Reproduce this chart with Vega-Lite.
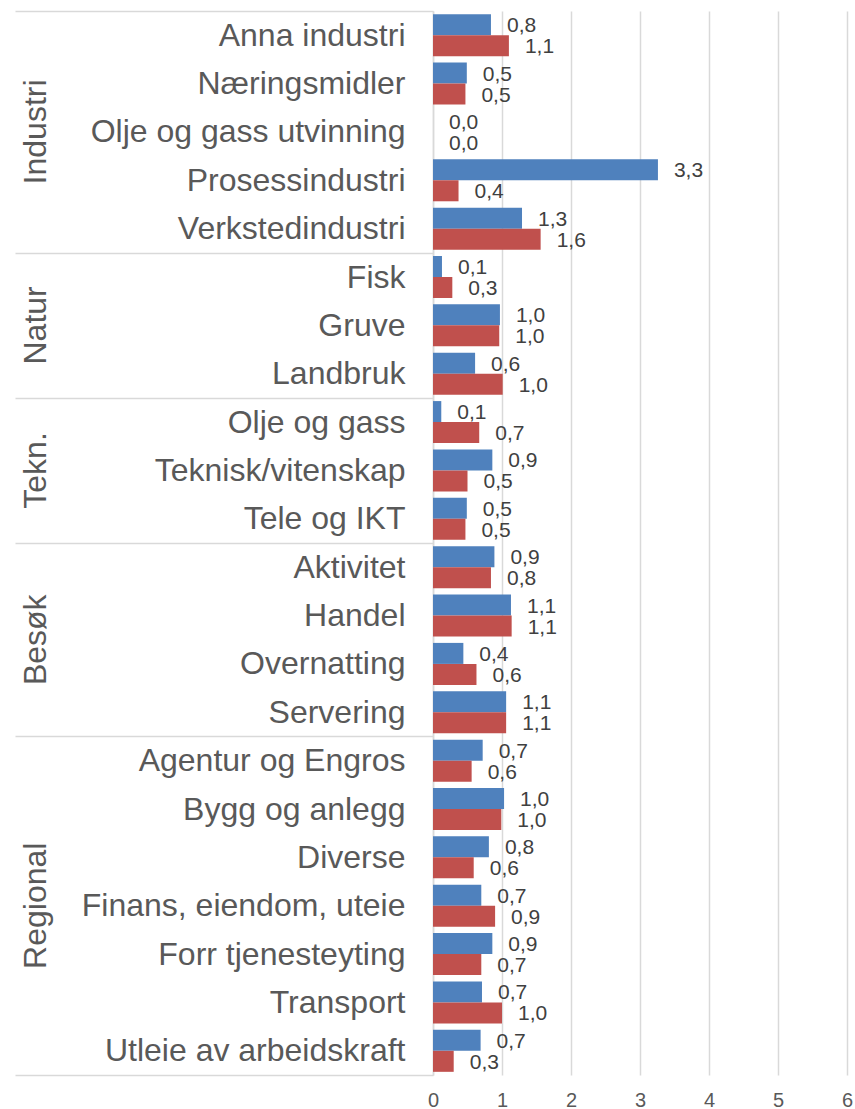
{
  "$schema": "https://vega.github.io/schema/vega-lite/v6.json",
  "autosize": {"type": "none"},
  "padding": {"left": 433, "top": 11, "right": 8, "bottom": 34},
  "width": 414,
  "height": 1064,
  "config": {
    "font": "Liberation Sans",
    "view": {"stroke": null},
    "locale": {"number": {"decimal": ",", "thousands": " ", "grouping": [3], "currency": ["", " kr"]}}
  },
  "data": {
    "values": [
      {"gruppe": "Industri", "kategori": "Anna industri", "serie": "Serie 1", "verdi": 0.84},
      {"gruppe": "Industri", "kategori": "Anna industri", "serie": "Serie 2", "verdi": 1.10},
      {"gruppe": "Industri", "kategori": "Næringsmidler", "serie": "Serie 1", "verdi": 0.49},
      {"gruppe": "Industri", "kategori": "Næringsmidler", "serie": "Serie 2", "verdi": 0.47},
      {"gruppe": "Industri", "kategori": "Olje og gass utvinning", "serie": "Serie 1", "verdi": 0},
      {"gruppe": "Industri", "kategori": "Olje og gass utvinning", "serie": "Serie 2", "verdi": 0},
      {"gruppe": "Industri", "kategori": "Prosessindustri", "serie": "Serie 1", "verdi": 3.26},
      {"gruppe": "Industri", "kategori": "Prosessindustri", "serie": "Serie 2", "verdi": 0.37},
      {"gruppe": "Industri", "kategori": "Verkstedindustri", "serie": "Serie 1", "verdi": 1.29},
      {"gruppe": "Industri", "kategori": "Verkstedindustri", "serie": "Serie 2", "verdi": 1.56},
      {"gruppe": "Natur", "kategori": "Fisk", "serie": "Serie 1", "verdi": 0.13},
      {"gruppe": "Natur", "kategori": "Fisk", "serie": "Serie 2", "verdi": 0.28},
      {"gruppe": "Natur", "kategori": "Gruve", "serie": "Serie 1", "verdi": 0.97},
      {"gruppe": "Natur", "kategori": "Gruve", "serie": "Serie 2", "verdi": 0.96},
      {"gruppe": "Natur", "kategori": "Landbruk", "serie": "Serie 1", "verdi": 0.61},
      {"gruppe": "Natur", "kategori": "Landbruk", "serie": "Serie 2", "verdi": 1.01},
      {"gruppe": "Tekn.", "kategori": "Olje og gass", "serie": "Serie 1", "verdi": 0.12},
      {"gruppe": "Tekn.", "kategori": "Olje og gass", "serie": "Serie 2", "verdi": 0.67},
      {"gruppe": "Tekn.", "kategori": "Teknisk/vitenskap", "serie": "Serie 1", "verdi": 0.86},
      {"gruppe": "Tekn.", "kategori": "Teknisk/vitenskap", "serie": "Serie 2", "verdi": 0.50},
      {"gruppe": "Tekn.", "kategori": "Tele og IKT", "serie": "Serie 1", "verdi": 0.49},
      {"gruppe": "Tekn.", "kategori": "Tele og IKT", "serie": "Serie 2", "verdi": 0.47},
      {"gruppe": "Besøk", "kategori": "Aktivitet", "serie": "Serie 1", "verdi": 0.89},
      {"gruppe": "Besøk", "kategori": "Aktivitet", "serie": "Serie 2", "verdi": 0.84},
      {"gruppe": "Besøk", "kategori": "Handel", "serie": "Serie 1", "verdi": 1.13},
      {"gruppe": "Besøk", "kategori": "Handel", "serie": "Serie 2", "verdi": 1.14},
      {"gruppe": "Besøk", "kategori": "Overnatting", "serie": "Serie 1", "verdi": 0.44},
      {"gruppe": "Besøk", "kategori": "Overnatting", "serie": "Serie 2", "verdi": 0.63},
      {"gruppe": "Besøk", "kategori": "Servering", "serie": "Serie 1", "verdi": 1.06},
      {"gruppe": "Besøk", "kategori": "Servering", "serie": "Serie 2", "verdi": 1.06},
      {"gruppe": "Regional", "kategori": "Agentur og Engros", "serie": "Serie 1", "verdi": 0.72},
      {"gruppe": "Regional", "kategori": "Agentur og Engros", "serie": "Serie 2", "verdi": 0.56},
      {"gruppe": "Regional", "kategori": "Bygg og anlegg", "serie": "Serie 1", "verdi": 1.03},
      {"gruppe": "Regional", "kategori": "Bygg og anlegg", "serie": "Serie 2", "verdi": 0.99},
      {"gruppe": "Regional", "kategori": "Diverse", "serie": "Serie 1", "verdi": 0.81},
      {"gruppe": "Regional", "kategori": "Diverse", "serie": "Serie 2", "verdi": 0.59},
      {"gruppe": "Regional", "kategori": "Finans, eiendom, uteie", "serie": "Serie 1", "verdi": 0.70},
      {"gruppe": "Regional", "kategori": "Finans, eiendom, uteie", "serie": "Serie 2", "verdi": 0.90},
      {"gruppe": "Regional", "kategori": "Forr tjenesteyting", "serie": "Serie 1", "verdi": 0.86},
      {"gruppe": "Regional", "kategori": "Forr tjenesteyting", "serie": "Serie 2", "verdi": 0.70},
      {"gruppe": "Regional", "kategori": "Transport", "serie": "Serie 1", "verdi": 0.71},
      {"gruppe": "Regional", "kategori": "Transport", "serie": "Serie 2", "verdi": 1.00},
      {"gruppe": "Regional", "kategori": "Utleie av arbeidskraft", "serie": "Serie 1", "verdi": 0.69},
      {"gruppe": "Regional", "kategori": "Utleie av arbeidskraft", "serie": "Serie 2", "verdi": 0.30}
    ]
  },
  "encoding": {
    "x": {
      "field": "verdi",
      "type": "quantitative",
      "scale": {"domain": [0, 6], "nice": false},
      "axis": {
        "title": null,
        "values": [0, 1, 2, 3, 4, 5, 6],
        "format": "d",
        "domain": false,
        "ticks": false,
        "labelFontSize": 20,
        "labelColor": "#595959",
        "labelPadding": 15,
        "labelFlush": false,
        "grid": true,
        "gridColor": "#D9D9D9",
        "gridWidth": 1.5
      }
    },
    "yOffset": {
      "field": "serie",
      "type": "nominal",
      "sort": ["Serie 1", "Serie 2"],
      "scale": {"paddingInner": 0, "paddingOuter": 0.151}
    }
  },
  "layer": [
    {
      "mark": {"type": "bar"},
      "encoding": {
        "y": {
          "field": "kategori",
          "type": "nominal",
          "sort": null,
          "scale": {"paddingInner": 0, "paddingOuter": 0},
          "axis": {
            "orient": "left",
            "title": null,
            "labelFontSize": 32,
            "labelColor": "#595959",
            "labelLimit": 0,
            "labelOverlap": false,
            "labelPadding": -390,
            "domainColor": "#D9D9D9",
            "domainWidth": 1.5,
            "tickBand": "extent",
            "tickSize": 418,
            "tickWidth": 1.5,
            "tickColor": {
              "condition": {
                "test": "indexof(['Verkstedindustri','Landbruk','Tele og IKT','Servering','Utleie av arbeidskraft'], datum.value) >= 0",
                "value": "#D9D9D9"
              },
              "value": "transparent"
            },
            "grid": false
          }
        },
        "color": {
          "field": "serie",
          "type": "nominal",
          "scale": {"domain": ["Serie 1", "Serie 2"], "range": ["#4F81BD", "#C0504D"]},
          "legend": null
        }
      }
    },
    {
      "mark": {
        "type": "text",
        "align": "left",
        "baseline": "middle",
        "dx": 16,
        "dy": 1.5,
        "fontSize": 21,
        "color": "#404040"
      },
      "encoding": {
        "y": {
          "field": "kategori",
          "type": "nominal",
          "sort": null,
          "axis": {
            "orient": "left",
            "title": null,
            "domain": false,
            "grid": false,
            "bandPosition": 0,
            "ticks": true,
            "tickSize": 418,
            "tickWidth": 1.5,
            "tickColor": {
              "condition": {"test": "datum.value == 'Anna industri'", "value": "#D9D9D9"},
              "value": "transparent"
            },
            "labelAngle": 270,
            "labelAlign": "center",
            "labelBaseline": "middle",
            "labelPadding": -20,
            "labelFontSize": 32,
            "labelColor": "#595959",
            "labelLimit": 0,
            "labelOverlap": false,
            "labelExpr": "datum.value == 'Olje og gass utvinning' ? 'Industri' : datum.value == 'Gruve' ? 'Natur' : datum.value == 'Teknisk/vitenskap' ? 'Tekn.' : datum.value == 'Handel' ? 'Besøk' : datum.value == 'Finans, eiendom, uteie' ? 'Regional' : ''",
            "labelOffset": {
              "condition": {"test": "datum.value == 'Handel'", "value": 24.18},
              "value": 0
            }
          }
        },
        "text": {"field": "verdi", "type": "quantitative", "format": ".1f"}
      }
    }
  ],
  "resolve": {"axis": {"y": "independent"}}
}
